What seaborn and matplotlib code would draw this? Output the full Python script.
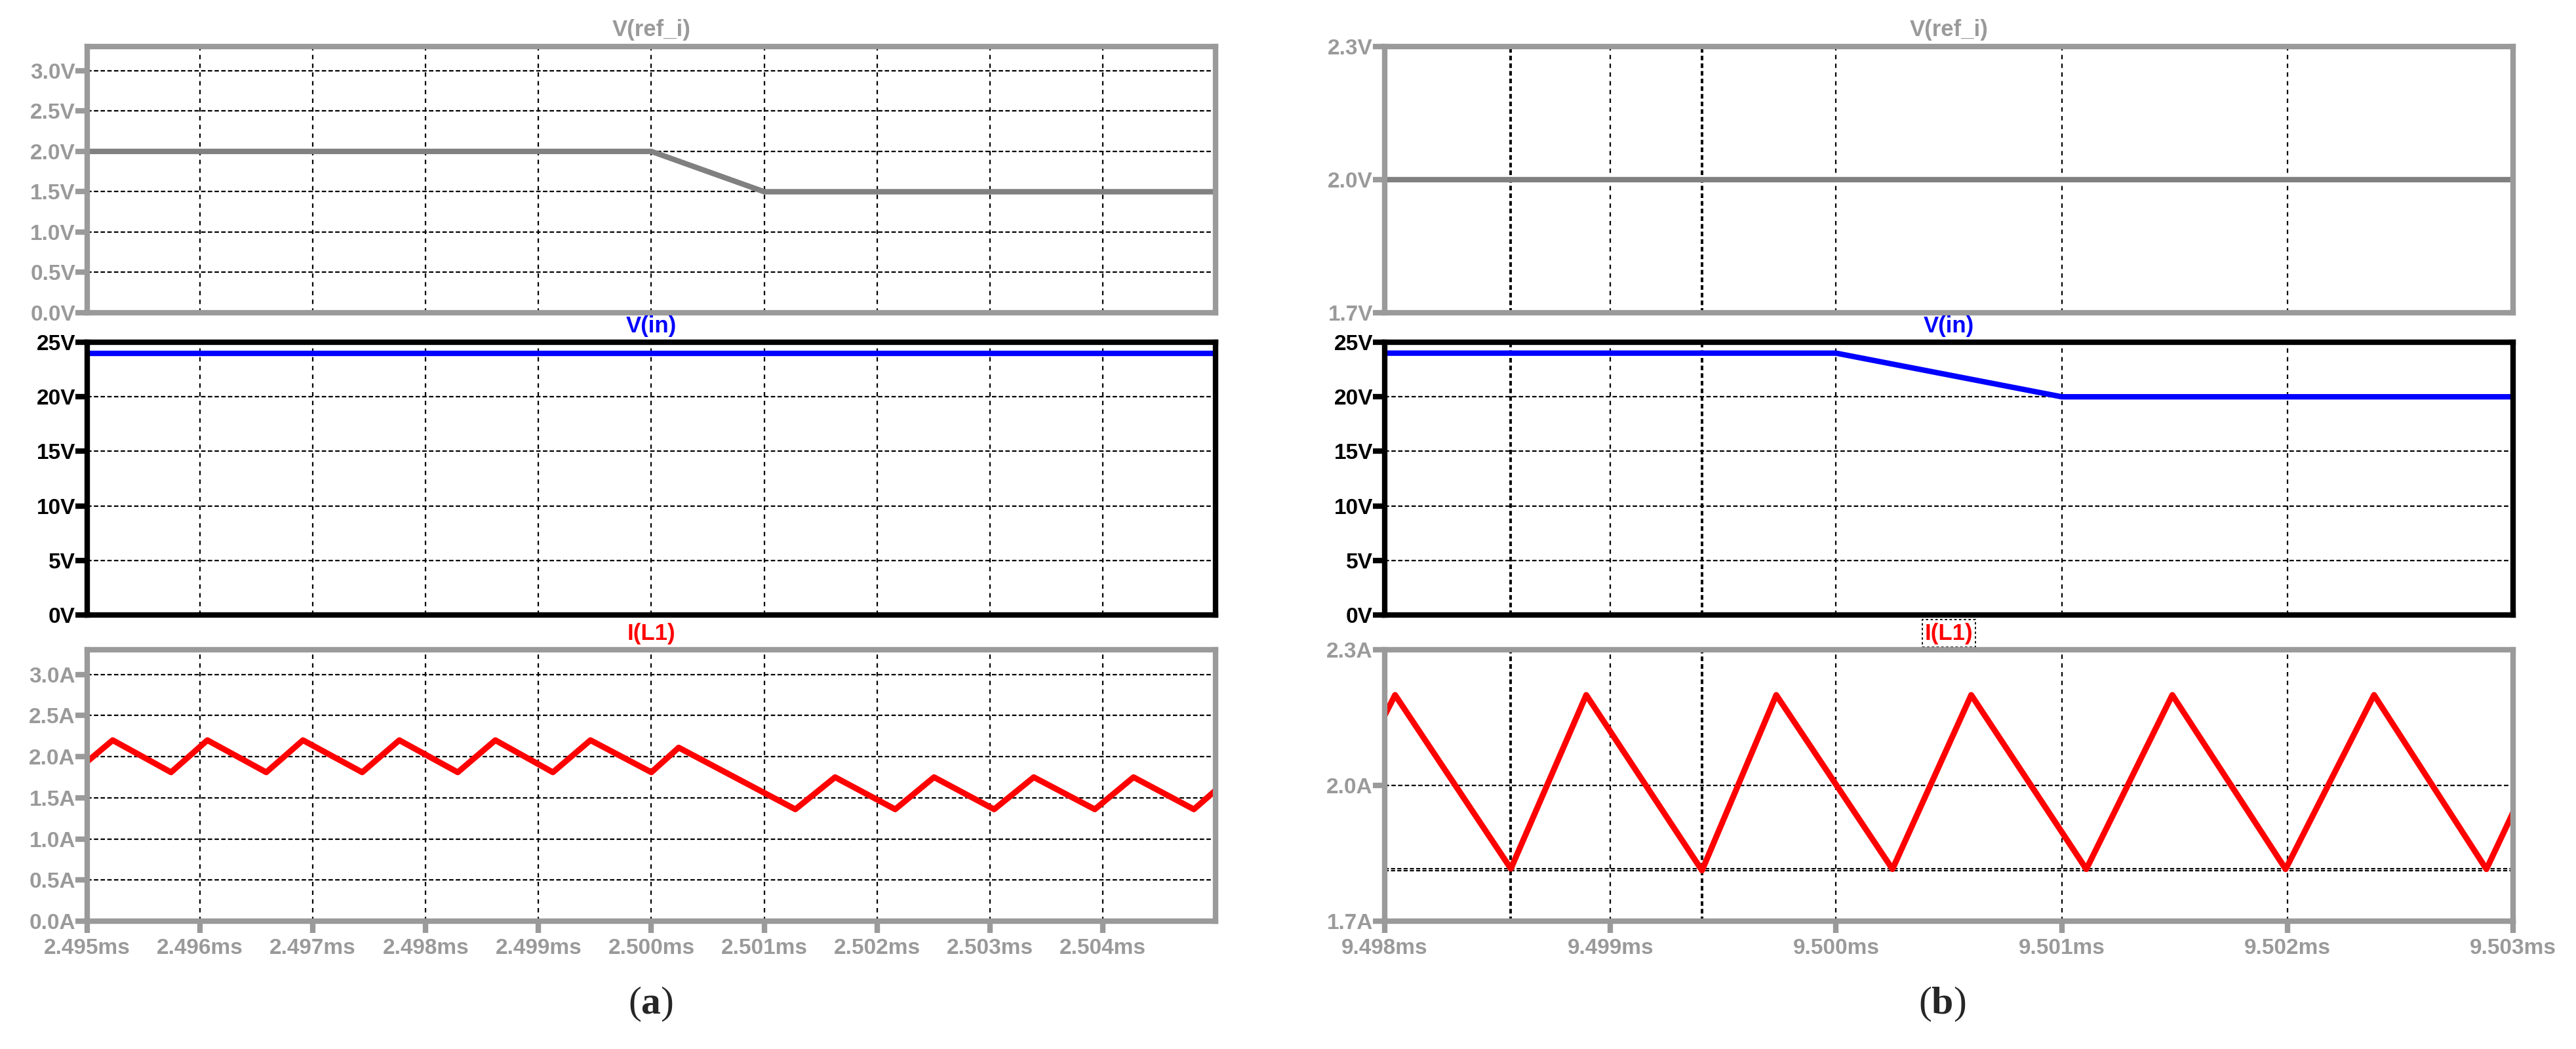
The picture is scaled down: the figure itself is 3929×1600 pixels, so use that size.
import pandas as pd
import matplotlib
matplotlib.use('Agg')
import matplotlib.pyplot as plt
import seaborn as sns
from matplotlib import font_manager

# ---- panel (a): 2.495ms .. 2.505ms ----
a_ref_t = [2.495, 2.500, 2.501, 2.505]
a_ref_v = [2.0, 2.0, 1.5, 1.5]
a_vin_t = [2.495, 2.505]
a_vin_v = [24.0, 24.0]
a_il_t = [2.495, 2.495226, 2.495743, 2.496065, 2.496587, 2.496912, 2.497437,
          2.497766, 2.498284, 2.498617, 2.499127, 2.499460, 2.500000, 2.500242,
          2.501276, 2.501628, 2.502161, 2.502505, 2.503038, 2.503389, 2.503930,
          2.504273, 2.504808, 2.505]
a_il_i = [1.94, 2.20, 1.81, 2.20, 1.81, 2.20, 1.81,
          2.20, 1.81, 2.20, 1.81, 2.20, 1.81, 2.11,
          1.36, 1.75, 1.36, 1.75, 1.36, 1.75, 1.36,
          1.75, 1.36, 1.59]
a_xticks = [2.495, 2.496, 2.497, 2.498, 2.499, 2.500, 2.501, 2.502, 2.503, 2.504]
a_xlabels = ['2.495ms', '2.496ms', '2.497ms', '2.498ms', '2.499ms',
             '2.500ms', '2.501ms', '2.502ms', '2.503ms', '2.504ms']

# ---- panel (b): 9.498ms .. 9.503ms ----
b_ref_t = [9.498, 9.503]
b_ref_v = [2.0, 2.0]
b_vin_t = [9.498, 9.500, 9.501, 9.503]
b_vin_v = [24.0, 24.0, 20.0, 20.0]
b_il_t = [9.498, 9.498046, 9.498559, 9.498893, 9.499406, 9.499735, 9.500250,
          9.500599, 9.501109, 9.501490, 9.501992, 9.502384, 9.502882, 9.503]
b_il_i = [2.155, 2.20, 1.816, 2.20, 1.812, 2.20, 1.815,
          2.20, 1.815, 2.20, 1.815, 2.20, 1.815, 1.94]
b_xticks = [9.498, 9.499, 9.500, 9.501, 9.502, 9.503]
b_xlabels = ['9.498ms', '9.499ms', '9.500ms', '9.501ms', '9.502ms', '9.503ms']
b_cursor_t = [9.498559, 9.499406]
b_cursor_i = [1.816, 1.812]

# ---- y axes ----
ref_a_ticks = [0.0, 0.5, 1.0, 1.5, 2.0, 2.5, 3.0]
ref_a_labels = ['0.0V', '0.5V', '1.0V', '1.5V', '2.0V', '2.5V', '3.0V']
vin_ticks = [0, 5, 10, 15, 20, 25]
vin_labels = ['0V', '5V', '10V', '15V', '20V', '25V']
il_a_ticks = [0.0, 0.5, 1.0, 1.5, 2.0, 2.5, 3.0]
il_a_labels = ['0.0A', '0.5A', '1.0A', '1.5A', '2.0A', '2.5A', '3.0A']
ref_b_ticks = [1.7, 2.0, 2.3]
ref_b_labels = ['1.7V', '2.0V', '2.3V']
il_b_ticks = [1.7, 2.0, 2.3]
il_b_labels = ['1.7A', '2.0A', '2.3A']

GRAY = '#9a9a9a'
TRACE_GRAY = '#808080'
W, H = 3930, 1600

sns.set_theme(style='white')
names = {f.name for f in font_manager.fontManager.ttflist}
sans = 'Liberation Sans' if 'Liberation Sans' in names else 'DejaVu Sans'
serif = 'Liberation Serif' if 'Liberation Serif' in names else 'DejaVu Serif'
plt.rcParams['font.family'] = [sans, 'DejaVu Sans']
plt.rcParams['mathtext.fontset'] = 'custom'
plt.rcParams['mathtext.rm'] = serif
plt.rcParams['mathtext.bf'] = serif + ':bold'

fig = plt.figure(figsize=(W / 100, H / 100), dpi=100)
fig.patch.set_facecolor('white')


def add_ax(x0, x1, y0, y1):
    # pixel box (top-left origin) -> figure fraction
    return fig.add_axes([x0 / W, 1 - y1 / H, (x1 - x0) / W, (y1 - y0) / H])


def style_panel(ax, xlim, xticks, ylim, yticks, ylabels, frame, labcol,
                title, title_col, xlabels=None, boxed=False):
    ax.set_xlim(xlim)
    ax.set_ylim(ylim)
    ax.set_xlabel('')
    ax.set_ylabel('')
    ax.set_facecolor('white')
    for s in ax.spines.values():
        s.set_visible(True)
        s.set_color(frame)
        s.set_linewidth(6)
        s.set_zorder(5)
    ax.set_yticks(yticks)
    ax.set_yticklabels(ylabels)
    ax.tick_params(axis='y', direction='out', length=13, width=6, color=frame,
                   pad=0, labelsize=24, labelcolor=labcol, left=True)
    for lab in ax.get_yticklabels():
        lab.set_fontweight('bold')
    ax.set_xticks(xticks)
    if xlabels is None:
        ax.tick_params(axis='x', length=0, labelbottom=False)
    else:
        ax.set_xticklabels(xlabels)
        ax.tick_params(axis='x', direction='out', length=13, width=6, color=frame,
                       pad=6, labelsize=24, labelcolor=GRAY, bottom=True)
        for lab in ax.get_xticklabels():
            lab.set_fontweight('bold')
    ax.grid(True, axis='x', color='black', linewidth=1.6, linestyle=(0, (3, 3)), zorder=1)
    ax.grid(True, axis='y', color='black', linewidth=1.6, linestyle=(0, (3, 1.6)), zorder=1)
    ax.set_axisbelow(True)
    bbox = None
    if boxed:
        bbox = dict(boxstyle='square,pad=0.12', fc='none', ec='black',
                    ls=(0, (2, 2)), lw=1.3)
    ax.annotate(title, xy=(0.5, 1.0), xycoords='axes fraction', xytext=(0, 18),
                textcoords='offset points', ha='center', va='center', fontsize=25,
                fontweight='bold', color=title_col, bbox=bbox)


panels = [
    # left column (a)
    dict(x=(133, 1854), xlim=(2.495, 2.505), xticks=a_xticks, xlabels=a_xlabels,
         boxed=False, traces=[
             (a_ref_t, a_ref_v, TRACE_GRAY, 6.0, (0, 3.3), ref_a_ticks, ref_a_labels, GRAY, GRAY, 'V(ref_i)', GRAY),
             (a_vin_t, a_vin_v, '#0000ff', 6.0, (0, 25), vin_ticks, vin_labels, 'black', 'black', 'V(in)', '#0000ff'),
             (a_il_t, a_il_i, '#ff0000', 6.5, (0, 3.3), il_a_ticks, il_a_labels, GRAY, GRAY, 'I(L1)', '#ff0000'),
         ]),
    # right column (b)
    dict(x=(2112, 3833), xlim=(9.498, 9.503), xticks=b_xticks, xlabels=b_xlabels,
         boxed=True, traces=[
             (b_ref_t, b_ref_v, TRACE_GRAY, 6.0, (1.7, 2.3), ref_b_ticks, ref_b_labels, GRAY, GRAY, 'V(ref_i)', GRAY),
             (b_vin_t, b_vin_v, '#0000ff', 6.0, (0, 25), vin_ticks, vin_labels, 'black', 'black', 'V(in)', '#0000ff'),
             (b_il_t, b_il_i, '#ff0000', 6.5, (1.7, 2.3), il_b_ticks, il_b_labels, GRAY, GRAY, 'I(L1)', '#ff0000'),
         ]),
]
rows = [(71, 477), (522, 938), (991, 1405)]

for col, p in enumerate(panels):
    for r, (t, v, c, lw, ylim, yt, yl, frame, labcol, title, tcol) in enumerate(p['traces']):
        ax = add_ax(p['x'][0], p['x'][1], rows[r][0], rows[r][1])
        df = pd.DataFrame({'t': t, 'v': v})
        sns.lineplot(data=df, x='t', y='v', ax=ax, color=c, linewidth=lw,
                     legend=False, zorder=4)
        style_panel(ax, p['xlim'], p['xticks'], ylim, yt, yl, frame, labcol,
                    title, tcol,
                    xlabels=p['xlabels'] if r == 2 else None,
                    boxed=(p['boxed'] and r == 2))
        if col == 1:
            for ct in b_cursor_t:
                ax.axvline(ct, color='black', linewidth=2.8,
                           linestyle=(0, (1.8, 1.2)), zorder=3)
            if r == 2:
                for ci in b_cursor_i:
                    ax.axhline(ci, color='black', linewidth=1.5,
                               linestyle=(0, (3, 1.6)), zorder=3)

fig.text(993 / W, 1 - 1532 / H, r'($\mathbf{a}$)', ha='center', va='center',
         fontsize=43, family=serif)
fig.text(2962 / W, 1 - 1532 / H, r'($\mathbf{b}$)', ha='center', va='center',
         fontsize=43, family=serif)

fig.savefig('out.png', dpi=100, facecolor='white')
